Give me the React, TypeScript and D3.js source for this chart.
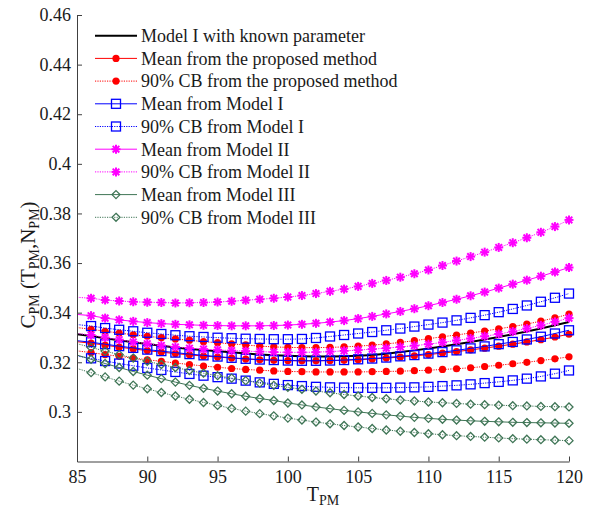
import React, { useRef, useEffect } from 'react';
import * as d3 from 'd3';

const WIDTH = 602;
const HEIGHT = 510;
const FONT = '"Liberation Serif", "Times New Roman", serif';

// x values (T_PM)
const T_PM = [85, 86, 87, 88, 89, 90, 91, 92, 93, 94, 95, 96, 97, 98, 99, 100, 101, 102,
  103, 104, 105, 106, 107, 108, 109, 110, 111, 112, 113, 114, 115, 116, 117, 118, 119, 120];

const X_TICKS = [85, 90, 95, 100, 105, 110, 115, 120];
const Y_TICKS = [0.3, 0.32, 0.34, 0.36, 0.38, 0.4, 0.42, 0.44, 0.46];

// Model I with known parameter
const knownModelI = [0.3313, 0.3306, 0.3297, 0.3289, 0.3281, 0.3274, 0.3267, 0.3260, 0.3254, 0.3249,
  0.3244, 0.3240, 0.3235, 0.3231, 0.3228, 0.3226, 0.3224, 0.3223, 0.3223, 0.3224, 0.3226, 0.3229,
  0.3234, 0.3241, 0.3248, 0.3256, 0.3264, 0.3273, 0.3282, 0.3292, 0.3302, 0.3313, 0.3324, 0.3336,
  0.3349, 0.3362];

// proposed method
const proposedMean = [0.3283, 0.3277, 0.3269, 0.3261, 0.3254, 0.3247, 0.3241, 0.3235, 0.3230, 0.3225,
  0.3221, 0.3217, 0.3213, 0.3210, 0.3208, 0.3207, 0.3206, 0.3206, 0.3207, 0.3208, 0.3210, 0.3213,
  0.3217, 0.3221, 0.3226, 0.3231, 0.3237, 0.3243, 0.3250, 0.3257, 0.3265, 0.3273, 0.3282, 0.3291,
  0.3302, 0.3313];
const proposedUpper = [0.3340, 0.3333, 0.3325, 0.3318, 0.3311, 0.3305, 0.3299, 0.3294, 0.3289, 0.3283,
  0.3279, 0.3274, 0.3270, 0.3265, 0.3262, 0.3260, 0.3259, 0.3259, 0.3260, 0.3262, 0.3265, 0.3269,
  0.3274, 0.3280, 0.3287, 0.3295, 0.3303, 0.3310, 0.3318, 0.3326, 0.3335, 0.3344, 0.3354, 0.3366,
  0.3379, 0.3394];
const proposedLower = [0.3246, 0.3239, 0.3231, 0.3224, 0.3217, 0.3210, 0.3204, 0.3197, 0.3191, 0.3185,
  0.3180, 0.3175, 0.3171, 0.3168, 0.3165, 0.3163, 0.3162, 0.3161, 0.3161, 0.3161, 0.3161, 0.3162,
  0.3163, 0.3164, 0.3166, 0.3168, 0.3171, 0.3174, 0.3178, 0.3183, 0.3188, 0.3194, 0.3200, 0.3207,
  0.3214, 0.3222];

// Model I
const model1Mean = [0.3287, 0.3281, 0.3273, 0.3265, 0.3258, 0.3251, 0.3245, 0.3239, 0.3233, 0.3228,
  0.3223, 0.3218, 0.3214, 0.3211, 0.3209, 0.3207, 0.3206, 0.3206, 0.3207, 0.3209, 0.3212, 0.3215,
  0.3219, 0.3224, 0.3229, 0.3235, 0.3241, 0.3248, 0.3256, 0.3264, 0.3273, 0.3282, 0.3292, 0.3303,
  0.3316, 0.3329];
const model1Upper = [0.3352, 0.3346, 0.3338, 0.3331, 0.3325, 0.3319, 0.3314, 0.3309, 0.3305, 0.3302,
  0.3299, 0.3297, 0.3295, 0.3294, 0.3293, 0.3293, 0.3294, 0.3298, 0.3304, 0.3310, 0.3316, 0.3322,
  0.3329, 0.3336, 0.3344, 0.3352, 0.3360, 0.3369, 0.3379, 0.3390, 0.3402, 0.3415, 0.3429, 0.3444,
  0.3460, 0.3477];
const model1Lower = [0.3225, 0.3216, 0.3205, 0.3195, 0.3186, 0.3177, 0.3169, 0.3161, 0.3153, 0.3146,
  0.3140, 0.3134, 0.3126, 0.3119, 0.3113, 0.3108, 0.3104, 0.3101, 0.3099, 0.3098, 0.3097, 0.3097,
  0.3097, 0.3098, 0.3099, 0.3101, 0.3104, 0.3107, 0.3111, 0.3116, 0.3121, 0.3127, 0.3134, 0.3143,
  0.3154, 0.3167];

// Model II
const model2Mean = [0.3393, 0.3388, 0.3378, 0.3371, 0.3365, 0.3360, 0.3356, 0.3353, 0.3351, 0.3349,
  0.3348, 0.3347, 0.3347, 0.3347, 0.3348, 0.3350, 0.3353, 0.3357, 0.3362, 0.3368, 0.3376, 0.3385,
  0.3395, 0.3405, 0.3416, 0.3428, 0.3441, 0.3454, 0.3468, 0.3483, 0.3499, 0.3515, 0.3531, 0.3547,
  0.3564, 0.3582];
const model2Upper = [0.3462, 0.3458, 0.3451, 0.3447, 0.3444, 0.3442, 0.3441, 0.3439, 0.3440, 0.3441,
  0.3443, 0.3446, 0.3450, 0.3454, 0.3458, 0.3463, 0.3469, 0.3477, 0.3486, 0.3495, 0.3506, 0.3518,
  0.3530, 0.3543, 0.3557, 0.3572, 0.3590, 0.3608, 0.3626, 0.3644, 0.3663, 0.3682, 0.3702, 0.3724,
  0.3747, 0.3774];
const model2Lower = [0.3316, 0.3310, 0.3300, 0.3291, 0.3282, 0.3275, 0.3268, 0.3262, 0.3257, 0.3253,
  0.3250, 0.3247, 0.3245, 0.3243, 0.3241, 0.3240, 0.3240, 0.3241, 0.3243, 0.3246, 0.3249, 0.3253,
  0.3257, 0.3262, 0.3267, 0.3273, 0.3280, 0.3288, 0.3296, 0.3305, 0.3314, 0.3324, 0.3336, 0.3349,
  0.3363, 0.3378];

// Model III
const model3Mean = [0.3229, 0.3212, 0.3195, 0.3179, 0.3163, 0.3148, 0.3134, 0.3120, 0.3107, 0.3095,
  0.3084, 0.3073, 0.3063, 0.3054, 0.3046, 0.3036, 0.3028, 0.3020, 0.3013, 0.3006, 0.3000, 0.2994,
  0.2988, 0.2983, 0.2978, 0.2974, 0.2970, 0.2967, 0.2964, 0.2962, 0.2960, 0.2958, 0.2957, 0.2956,
  0.2955, 0.2954];
const model3Upper = [0.3275, 0.3260, 0.3245, 0.3231, 0.3217, 0.3204, 0.3191, 0.3179, 0.3167, 0.3156,
  0.3146, 0.3136, 0.3126, 0.3116, 0.3107, 0.3099, 0.3091, 0.3084, 0.3077, 0.3070, 0.3064, 0.3058,
  0.3053, 0.3048, 0.3044, 0.3040, 0.3037, 0.3034, 0.3031, 0.3029, 0.3027, 0.3025, 0.3024, 0.3022,
  0.3021, 0.3020];
const model3Lower = [0.3175, 0.3158, 0.3141, 0.3124, 0.3108, 0.3093, 0.3078, 0.3064, 0.3051, 0.3038,
  0.3026, 0.3014, 0.3003, 0.2993, 0.2984, 0.2975, 0.2967, 0.2959, 0.2952, 0.2945, 0.2939, 0.2933,
  0.2927, 0.2922, 0.2917, 0.2912, 0.2908, 0.2904, 0.2901, 0.2898, 0.2895, 0.2892, 0.2890, 0.2888,
  0.2886, 0.2884];

const LEGEND_LABELS = [
  'Model I with known parameter',
  'Mean from the proposed method',
  '90% CB from the proposed method',
  'Mean from Model I',
  '90% CB from Model I',
  'Mean from Model II',
  '90% CB from Model II',
  'Mean from Model III',
  '90% CB from Model III',
];

const GREEN = '#3f7556';

// one entry per legend item, CB entries carry two curves
const SERIES = [
  { curves: [knownModelI], color: '#000', dotted: false, marker: 'none', width: 2 },
  { curves: [proposedMean], color: '#ff0000', dotted: false, marker: 'dot', width: 1 },
  { curves: [proposedUpper, proposedLower], color: '#ff0000', dotted: true, marker: 'dot', width: 1 },
  { curves: [model1Mean], color: '#0000ff', dotted: false, marker: 'square', width: 1 },
  { curves: [model1Upper, model1Lower], color: '#0000ff', dotted: true, marker: 'square', width: 1 },
  { curves: [model2Mean], color: '#ff00ff', dotted: false, marker: 'star', width: 1 },
  { curves: [model2Upper, model2Lower], color: '#ff00ff', dotted: true, marker: 'star', width: 1 },
  { curves: [model3Mean], color: GREEN, dotted: false, marker: 'diamond', width: 1 },
  { curves: [model3Upper, model3Lower], color: GREEN, dotted: true, marker: 'diamond', width: 1 },
];

function drawMarker(g: any, kind: string, cx: number, cy: number, color: string) {
  if (kind === 'dot') {
    g.append('circle').attr('cx', cx).attr('cy', cy).attr('r', 3.6).attr('fill', color);
  } else if (kind === 'square') {
    g.append('rect').attr('x', cx - 4.5).attr('y', cy - 4.5).attr('width', 9).attr('height', 9)
      .attr('fill', 'none').attr('stroke', color).attr('stroke-width', 1.3);
  } else if (kind === 'star') {
    const r = 4.5, d = 3.3;
    const segs = [[-r, 0, r, 0], [0, -r, 0, r], [-d, -d, d, d], [-d, d, d, -d]];
    segs.forEach(([x1, y1, x2, y2]) => {
      g.append('line').attr('x1', cx + x1).attr('y1', cy + y1).attr('x2', cx + x2).attr('y2', cy + y2)
        .attr('stroke', color).attr('stroke-width', 2);
    });
  } else if (kind === 'diamond') {
    const r = 4;
    g.append('path')
      .attr('d', `M${cx},${cy - r}L${cx + r},${cy}L${cx},${cy + r}L${cx - r},${cy}Z`)
      .attr('fill', 'none').attr('stroke', color).attr('stroke-width', 1.3);
  }
}

export default function App() {
  const svgRef = useRef<SVGSVGElement>(null);

  useEffect(() => {
    const svg = d3.select(svgRef.current);
    svg.selectAll('*').remove();

    const xScale = d3.scaleLinear().domain([85, 120]).range([77, 569]);
    const yScale = d3.scaleLinear().domain([0.28, 0.46]).range([461.5, 15]);

    svg.append('rect').attr('width', WIDTH).attr('height', HEIGHT).attr('fill', '#fff');

    // curves, in plot order so later ones sit on top
    const plot = svg.append('g');
    const line = d3.line<number>()
      .x((_, i) => xScale(T_PM[i]))
      .y(d => yScale(d));

    SERIES.forEach(s => {
      s.curves.forEach(values => {
        plot.append('path')
          .datum(values)
          .attr('d', line)
          .attr('fill', 'none')
          .attr('stroke', s.color)
          .attr('stroke-width', s.width)
          .attr('stroke-dasharray', s.dotted ? '1.2,1.2' : null);
        if (s.marker !== 'none') {
          values.forEach((v, i) => {
            if (T_PM[i] < 86) return;
            drawMarker(plot, s.marker, xScale(T_PM[i]), yScale(v), s.color);
          });
        }
      });
    });

    // axes (ticks point inward)
    const axisColor = '#404040';
    const xAxis = d3.axisBottom(xScale).tickValues(X_TICKS).tickSize(-5).tickSizeOuter(0).tickPadding(9);
    svg.append('g').attr('transform', `translate(0,${yScale(0.28)})`).call(xAxis)
      .call(a => a.selectAll('text').attr('fill', '#1a1a1a').attr('font-size', 18).attr('font-family', FONT))
      .call(a => a.selectAll('line,path').attr('stroke', axisColor));

    const yAxis = d3.axisLeft(yScale).tickValues(Y_TICKS).tickSize(-5).tickSizeOuter(0).tickPadding(6)
      .tickFormat(d => String(+(+d).toFixed(2)));
    svg.append('g').attr('transform', `translate(${xScale(85)},0)`).call(yAxis)
      .call(a => a.selectAll('text').attr('fill', '#1a1a1a').attr('font-size', 18).attr('font-family', FONT))
      .call(a => a.selectAll('line,path').attr('stroke', axisColor));

    // axis labels
    const xl = svg.append('text')
      .attr('x', 323).attr('y', 501)
      .attr('text-anchor', 'middle').attr('font-family', FONT).attr('font-size', 20).attr('fill', '#1a1a1a');
    xl.append('tspan').text('T');
    xl.append('tspan').attr('font-size', 14).attr('dy', 4).text('PM');

    const yl = svg.append('text')
      .attr('transform', 'translate(35,265) rotate(-90)')
      .attr('text-anchor', 'middle').attr('font-family', FONT).attr('font-size', 21).attr('fill', '#1a1a1a');
    yl.append('tspan').text('C');
    yl.append('tspan').attr('font-size', 14).attr('dy', 4).text('PM');
    yl.append('tspan').attr('dy', -4).text(' (T');
    yl.append('tspan').attr('font-size', 14).attr('dy', 4).text('PM');
    yl.append('tspan').attr('dy', -4).text(',N');
    yl.append('tspan').attr('font-size', 14).attr('dy', 4).text('PM');
    yl.append('tspan').attr('dy', -4).text(')');

    // legend
    const legend = svg.append('g');
    SERIES.forEach((s, i) => {
      const y = 35.7 + i * 22.7;
      legend.append('line')
        .attr('x1', 95).attr('x2', 137).attr('y1', y).attr('y2', y)
        .attr('stroke', s.color).attr('stroke-width', s.width)
        .attr('stroke-dasharray', s.dotted ? '1.2,1.2' : null);
      if (s.marker !== 'none') drawMarker(legend, s.marker, 116, y, s.color);
      legend.append('text')
        .attr('x', 141).attr('y', y).attr('dy', '0.35em')
        .attr('font-family', FONT).attr('font-size', 18).attr('fill', '#1a1a1a')
        .text(LEGEND_LABELS[i]);
    });
  }, []);

  return (
    <svg
      ref={svgRef}
      width={WIDTH}
      height={HEIGHT}
      style={{ position: 'absolute', left: 0, top: 0, display: 'block' }}
    />
  );
}
